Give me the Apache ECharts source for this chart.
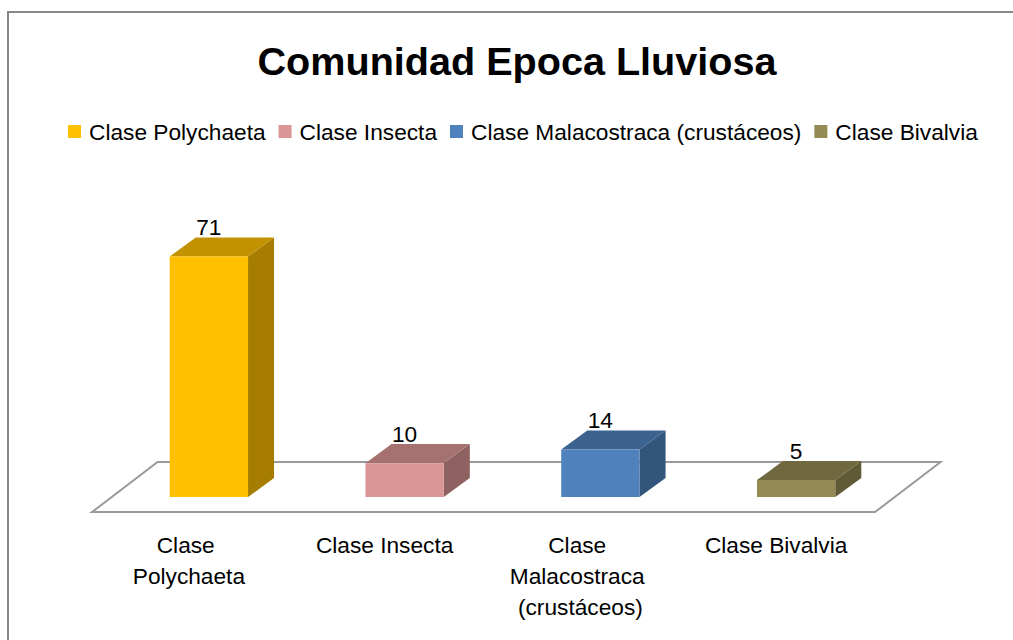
<!DOCTYPE html>
<html>
<head>
<meta charset="utf-8">
<title>Comunidad Epoca Lluviosa</title>
<script src="https://cdn.jsdelivr.net/npm/echarts@6/dist/echarts.min.js"></script>
<style>
  html, body { margin: 0; padding: 0; background: #fff; }
  #main { width: 1013px; height: 640px; }
</style>
</head>
<body>
<div id="main"></div>
<script>
// datos
var categories = ['Clase Polychaeta', 'Clase Insecta', 'Clase Malacostraca (crustáceos)', 'Clase Bivalvia']
var values = [71, 10, 14, 5]
var colors = ['#FFC000', '#D99694', '#4F81BD', '#948A54']

var FONT = '"Liberation Sans", Arial, sans-serif'

// oscurecer un color (caras superior y lateral)
function shade(hex, k) {
  var n = parseInt(hex.slice(1), 16)
  var r = Math.round(((n >> 16) & 255) * k)
  var g = Math.round(((n >> 8) & 255) * k)
  var b = Math.round((n & 255) * k)
  return 'rgb(' + r + ',' + g + ',' + b + ')'
}

// barra 3D
function renderBar(params, api) {
  var idx = api.value(0)
  var val = api.value(1)
  var base = api.coord([idx, 0])
  var top = api.coord([idx, val])
  var band = api.size([1, 0])[0]
  var w = band * 0.4
  var dx = band * 0.133
  var dy = -dx * 0.73
  var x0 = base[0] - w / 2, x1 = base[0] + w / 2
  var yb = base[1], yt = top[1]
  var c = api.visual('color')
  return {
    type: 'group',
    children: [
      { type: 'polygon', shape: { points: [[x1, yb], [x1 + dx, yb + dy], [x1 + dx, yt + dy], [x1, yt]] },
        style: { fill: shade(c, 0.65) } },
      { type: 'polygon', shape: { points: [[x0, yt], [x1, yt], [x1 + dx, yt + dy], [x0 + dx, yt + dy]] },
        style: { fill: shade(c, 0.76) } },
      { type: 'rect', shape: { x: x0, y: yt, width: w, height: yb - yt },
        style: { fill: c } },
      { type: 'text', x: base[0], y: yt + dy + 1,
        style: { text: String(val), fill: '#000', font: '22.7px ' + FONT, align: 'center', verticalAlign: 'bottom' } }
    ]
  }
}

// piso
function renderFloor(params, api) {
  var cs = params.coordSys
  var band = cs.width / categories.length
  var bottom = cs.y + cs.height
  var fx = -band * 0.097, fy = band * 0.077
  var bx = band * 0.238, by = -band * 0.179
  return {
    type: 'polygon',
    shape: { points: [
      [cs.x + fx, bottom + fy], [cs.x + cs.width + fx, bottom + fy],
      [cs.x + cs.width + bx, bottom + by], [cs.x + bx, bottom + by]
    ] },
    style: { fill: '#fff', stroke: '#9a9a9a', lineWidth: 2 }
  }
}

var series = [{
  name: 'piso',
  type: 'custom',
  renderItem: renderFloor,
  data: [[0, 0]],
  silent: true,
  z: 1
}]
categories.forEach(function (name, i) {
  series.push({
    name: name,
    type: 'custom',
    renderItem: renderBar,
    itemStyle: { color: colors[i] },
    encode: { x: 0, y: 1 },
    data: [[i, values[i]]],
    z: 2
  })
})

var chart = echarts.init(document.getElementById('main'), null, { renderer: 'svg' })
chart.setOption({
  animation: false,
  color: colors,
  graphic: [{
    type: 'rect',
    shape: { x: 8, y: 12, width: 1200, height: 800 },
    style: { fill: 'none', stroke: '#878787', lineWidth: 2 },
    silent: true
  }],
  title: {
    text: 'Comunidad Epoca Lluviosa',
    left: 512,
    textAlign: 'center',
    top: 36,
    textStyle: { fontFamily: FONT, fontWeight: 'bold', fontSize: 39.6, color: '#000', lineHeight: 40 }
  },
  legend: {
    data: categories,
    left: 68,
    top: 120,
    padding: 0,
    itemWidth: 13,
    itemHeight: 13,
    itemGap: 13,
    icon: 'rect',
    textStyle: { fontFamily: FONT, fontSize: 22.7, color: '#000', padding: [0, 0, 0, 3] }
  },
  grid: { left: 111, right: 119, top: 226, bottom: 143, containLabel: false },
  xAxis: {
    type: 'category',
    data: categories,
    axisLine: { show: false },
    axisTick: { show: false },
    axisLabel: {
      interval: 0,
      margin: 32,
      color: '#000',
      fontFamily: FONT,
      fontSize: 22.7,
      lineHeight: 31,
      width: 160,
      overflow: 'break',
      padding: [0, 40, 0, 0]
    }
  },
  yAxis: {
    type: 'value',
    min: 0,
    max: 80,
    show: false,
    splitLine: { show: false }
  },
  series: series
})
</script>
</body>
</html>
